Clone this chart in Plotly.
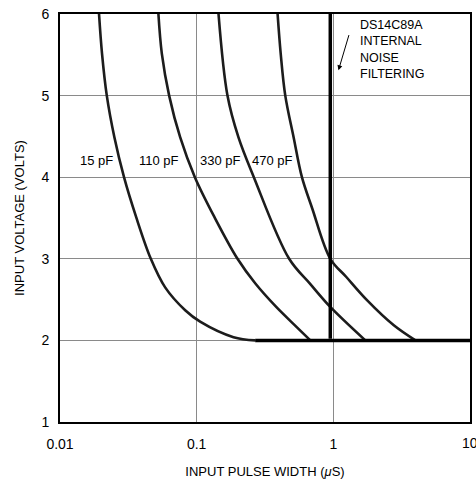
import math
import plotly.graph_objects as go

# ---- data ----
x_15 = [0.0193, 0.0203, 0.022, 0.025, 0.0294, 0.0361, 0.0462, 0.0588, 0.0824, 0.106, 0.186, 0.268]
v_15 = [6.0, 5.515, 5.0, 4.49, 4.0, 3.51, 3.0, 2.65, 2.37, 2.23, 2.04, 2.0]

x_110 = [0.0525, 0.0556, 0.0629, 0.0757, 0.097, 0.135, 0.199, 0.268, 0.382, 0.542, 0.679]
v_110 = [6.0, 5.515, 5.0, 4.49, 4.0, 3.51, 3.0, 2.70, 2.41, 2.16, 2.0]

x_330 = [0.1445, 0.168, 0.202, 0.262, 0.475, 0.679, 0.95, 1.715]
v_330 = [6.0, 5.0, 4.49, 4.0, 3.0, 2.69, 2.41, 2.0]

x_470 = [0.391, 0.412, 0.445, 0.512, 0.589, 0.70, 0.95, 1.24, 1.77, 2.77, 3.99]
v_470 = [6.0, 5.515, 5.0, 4.49, 4.0, 3.62, 3.0, 2.78, 2.49, 2.185, 2.0]

floor_x = [0.268, 10.0]
floor_v = [2.0, 2.0]

filter_x = [0.95, 0.95]
filter_v = [6.0, 2.02]

x_tick_vals = [0.01, 0.1, 1, 10]
x_tick_text = ["0.01", "0.1", "1", "10"]
y_tick_vals = [1, 2, 3, 4, 5, 6]

cap_labels = ["15 pF", "110 pF", "330 pF", "470 pF"]
cap_label_x = [0.0184, 0.0531, 0.1486, 0.357]
cap_label_v = [4.21, 4.21, 4.21, 4.21]

note_text = "DS14C89A<br>INTERNAL<br>NOISE<br>FILTERING"

FONT = "Liberation Sans"
CURVE = "#1c1c1c"

fig = go.Figure()
for xs, vs in [(x_15, v_15), (x_110, v_110), (x_330, v_330), (x_470, v_470)]:
    fig.add_trace(go.Scatter(x=xs, y=vs, mode="lines",
                             line=dict(color=CURVE, width=2.6, shape="spline", smoothing=1.0),
                             hoverinfo="skip", showlegend=False))
fig.add_trace(go.Scatter(x=floor_x, y=floor_v, mode="lines",
                         line=dict(color="black", width=3.5), hoverinfo="skip", showlegend=False))
fig.add_trace(go.Scatter(x=filter_x, y=filter_v, mode="lines",
                         line=dict(color="black", width=3.5), hoverinfo="skip", showlegend=False))

for t, xv, yv in zip(cap_labels, cap_label_x, cap_label_v):
    fig.add_annotation(x=math.log10(xv), y=yv, xref="x", yref="y", text=t,
                       showarrow=False, font=dict(family=FONT, size=13, color="black"))

fig.add_annotation(x=math.log10(1.52), y=5.98, xref="x", yref="y", text=note_text,
                   showarrow=False, xanchor="left", yanchor="top", align="left",
                   font=dict(family=FONT, size=12.5, color="black"))
fig.add_annotation(x=math.log10(1.09), y=5.31, ax=math.log10(1.31), ay=5.76,
                   xref="x", yref="y", axref="x", ayref="y", text="",
                   showarrow=True, arrowhead=2, arrowsize=1, arrowwidth=1, arrowcolor="black")

# last x tick label sits on the figure edge (partly cut, as in the reference)
fig.add_annotation(x=math.log10(x_tick_vals[-1]), y=0, xref="x", yref="paper",
                   text=x_tick_text[-1], showarrow=False, xanchor="center", yanchor="top",
                   yshift=-11, font=dict(family=FONT, size=14, color="black"))

fig.update_xaxes(type="log", range=[-2, 1], tickvals=x_tick_vals[:-1],
                 ticktext=x_tick_text[:-1], showgrid=True, gridcolor="#8a8a8a",
                 gridwidth=1, showline=True, linecolor="black", linewidth=2, mirror=True,
                 ticks="", zeroline=False, automargin=False, ticklabelstandoff=8,
                 title=dict(text="INPUT PULSE WIDTH (<i>μ</i>S)", font=dict(family=FONT, size=13, color="black"), standoff=18),
                 tickfont=dict(family=FONT, size=14, color="black"))
fig.update_yaxes(range=[1, 6], tickvals=y_tick_vals, showgrid=True, gridcolor="#8a8a8a",
                 gridwidth=1, showline=True, linecolor="black", linewidth=2, mirror=True,
                 ticks="", zeroline=False, automargin=False, ticklabelstandoff=6,
                 title=dict(text="INPUT VOLTAGE (VOLTS)", font=dict(family=FONT, size=13, color="black"), standoff=14),
                 tickfont=dict(family=FONT, size=14, color="black"))

fig.update_layout(width=476, height=479, margin=dict(l=60, r=6, t=14, b=57),
                  paper_bgcolor="white", plot_bgcolor="white", showlegend=False)
fig.write_html("out.html", config={"displayModeBar": False},
               post_script="document.body.style.margin='0';document.body.style.overflow='hidden';")
